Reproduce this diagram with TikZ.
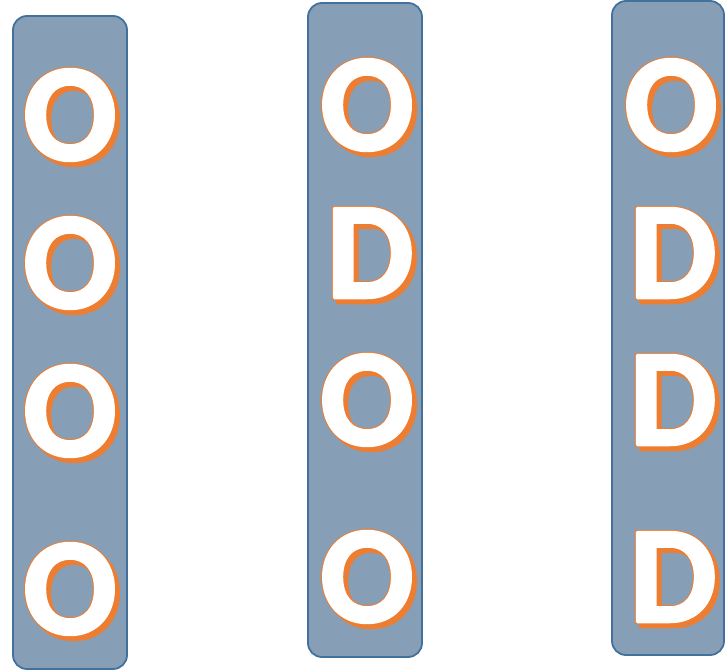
\documentclass[tikz,border=0pt]{standalone}
\usepackage{fontspec}
\usepackage{tikz}
\usetikzlibrary{positioning, calc}
\newfontfamily\letterfont{Carlito}[BoldFont={Carlito Bold}]
\definecolor{colfill}{RGB}{134,159,182}
\definecolor{coldraw}{RGB}{65,113,156}
\definecolor{shadeorange}{RGB}{237,125,49}
% letra con trazo: #1 grosor, #2 color RGB del trazo, #3 texto
\newcommand{\stroked}[3]{\special{pdf:literal direct 2 Tr 1 j #1 w #2 RG}#3\special{pdf:literal direct 0 Tr}}
% letra blanca con contorno y sombra naranja
\newcommand{\shadowed}[1]{%
    \rlap{\hspace{4pt}\smash{\raisebox{-4pt}{\textcolor{shadeorange}{\stroked{5}{0.929 0.490 0.192}{#1}}}}}%
    \rlap{\textcolor{shadeorange}{\stroked{5}{0.929 0.490 0.192}{#1}}}%
    \textcolor{white}{\stroked{3}{1 1 1}{#1}}}

\begin{document}
\begin{tikzpicture}[
    x=1pt, y=-1pt,
    column/.style={draw=coldraw, line width=1.8pt, fill=colfill, rounded corners=14pt},
    letter/.style={inner sep=0pt, text=white, font=\letterfont\bfseries\fontsize{138}{138}\selectfont}
    ]
    \useasboundingbox (0,0) rectangle (726,672);

    % --- Columnas ---
    \draw[column] (13,16) rectangle (127,669);
    \draw[column] (308,3) rectangle (422,657);
    \draw[column] (612,1) rectangle (724,655);

    % --- Letras ---
    \foreach \x/\y/\c [count=\i] in {70/115/O, 70/263/O, 70/411/O, 70/589/O,
        367/105/O, 370/253/D, 367/400/O, 367/577/O,
        671/105/O, 673/253/D, 673/400/D, 673/577/D} {
        \node[letter] (l\i) at (\x,\y) {\shadowed{\c}};
    }

\end{tikzpicture}
\end{document}
